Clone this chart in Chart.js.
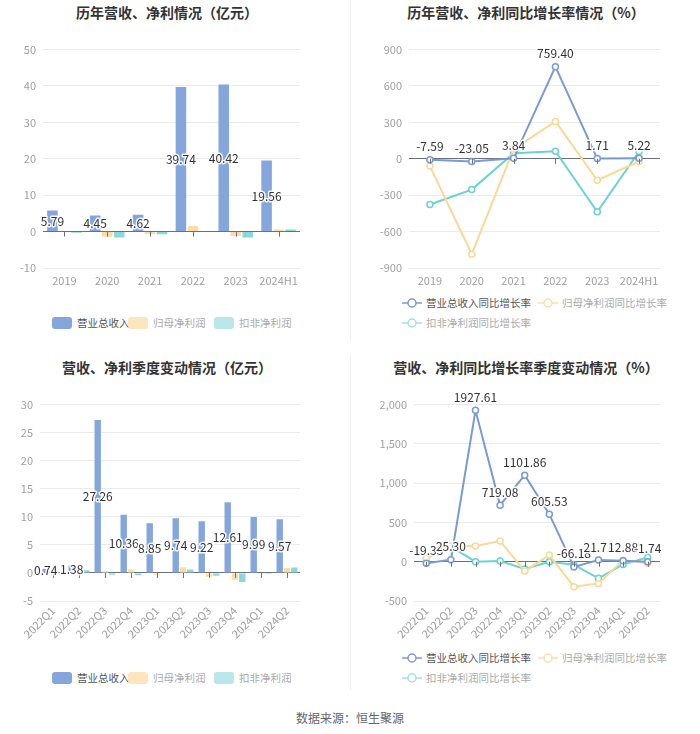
<!DOCTYPE html>
<html><head><meta charset="utf-8">
<script src="https://cdn.jsdelivr.net/npm/chart.js@4.4.1/dist/chart.umd.min.js"></script>
<style>
html,body{margin:0;padding:0;background:#fff;}
body{width:700px;height:734px;position:relative;overflow:hidden;font-family:"Noto Sans CJK SC","Noto Sans",sans-serif;}
.box{position:absolute;}
.title{position:absolute;font-size:14px;font-weight:bold;color:#333;white-space:nowrap;transform:translateX(-50%);}
.divider{position:absolute;width:1px;background:#f0f0f0;}
.legend{position:absolute;font-size:10.5px;white-space:nowrap;}
.legend .it{position:absolute;display:flex;align-items:center;}
.legend .sw{width:20px;height:12px;border-radius:3px;margin-right:5px;}
.legend svg{margin-right:4px;}
.src{position:absolute;left:0;width:700px;text-align:center;top:709px;font-size:12px;color:#666;}
</style></head>
<body>
<div class="divider" style="left:350px;top:0;height:340px"></div>
<div class="divider" style="left:350px;top:355px;height:335px"></div>
<div class="title" style="left:167px;top:2px">历年营收、净利情况（亿元）</div>
<div class="title" style="left:526px;top:2px">历年营收、净利同比增长率情况（%）</div>
<div class="title" style="left:167px;top:357px">营收、净利季度变动情况（亿元）</div>
<div class="title" style="left:526px;top:357px">营收、净利同比增长率季度变动情况（%）</div>
<div class="box" style="left:0;top:36px;width:310px;height:254px"><canvas id="c1"></canvas></div>
<div class="box" style="left:350px;top:36px;width:320px;height:254px"><canvas id="c2"></canvas></div>
<div class="box" style="left:0;top:391px;width:310px;height:259px"><canvas id="c3"></canvas></div>
<div class="box" style="left:350px;top:391px;width:320px;height:259px"><canvas id="c4"></canvas></div>
<div id="lg1" class="legend" style="left:0;top:315px"></div>
<div id="lg2" class="legend" style="left:0;top:295px"></div>
<div id="lg3" class="legend" style="left:0;top:670px"></div>
<div id="lg4" class="legend" style="left:0;top:650px"></div>
<div class="src">数据来源：恒生聚源</div>
<script>
// ---- data ----
const years = ['2019','2020','2021','2022','2023','2024H1'];
const annualRevenue = [5.79,4.45,4.62,39.74,40.42,19.56];
const annualNetProfit = [-0.1,-1.4,-0.7,1.55,-1.2,0.6];
const annualDeductedProfit = [-0.3,-1.6,-0.7,-0.1,-1.6,0.6];
const annualRevenueGrowth = [-7.59,-23.05,3.84,759.40,1.71,5.22];
const annualNetProfitGrowth = [-60,-786,80,308,-177,-22];
const annualDeductedGrowth = [-377,-254,46,63,-437,60];
const quarters = ['2022Q1','2022Q2','2022Q3','2022Q4','2023Q1','2023Q2','2023Q3','2023Q4','2024Q1','2024Q2'];
const quarterRevenue = [0.74,1.38,27.26,10.36,8.85,9.74,9.22,12.61,9.99,9.57];
const quarterNetProfit = [0.05,0.05,0.3,0.6,-0.3,1.0,-0.7,-1.2,-0.2,0.9];
const quarterDeductedProfit = [-0.1,0.5,-0.3,-0.4,-0.1,0.6,-0.5,-1.6,-0.2,0.95];
const quarterRevenueGrowth = [-19.33,25.30,1927.61,719.08,1101.86,605.53,-66.18,21.71,12.88,-1.74];
const quarterNetProfitGrowth = [40,200,200,263,-119,85,-318,-276,20,-21];
const quarterDeductedGrowth = [51,191,0,10,-93,0,-38,-212,-34,55];
const barNames = ['营业总收入','归母净利润','扣非净利润'];
const lineNames = ['营业总收入同比增长率','归母净利润同比增长率','扣非净利润同比增长率'];

const FONT = '"Noto Sans CJK SC","Noto Sans",sans-serif';
const BLUE_BAR = 'rgb(132,166,220)', YEL_BAR = 'rgb(252,220,165)', CY_BAR = 'rgb(140,215,220)';
const BLUE_LN = 'rgb(122,154,212)', YEL_LN = 'rgb(251,216,150)', CY_LN = 'rgb(105,210,212)';
const AXIS = '#6e7079', GRID = '#e9ebef', TICK = '#a0a0a0';

const labelPlugin = {
  id: 'vlabels',
  afterDatasetsDraw(chart, args, opts) {
    const ctx = chart.ctx;
    const meta = chart.getDatasetMeta(0);
    const data = chart.data.datasets[0].data;
    const y0 = chart.scales.y.getPixelForValue(0);
    ctx.save();
    ctx.font = '12px ' + FONT;
    ctx.textAlign = 'center';
    ctx.textBaseline = 'middle';
    ctx.lineJoin = 'round';
    meta.data.forEach((el, i) => {
      const t = data[i].toFixed(2);
      let x = el.x, y;
      if (opts.mode === 'bar') y = (el.y + y0) / 2; else y = el.y - 13;
      ctx.strokeStyle = 'rgba(255,255,255,0.9)';
      ctx.lineWidth = 3;
      ctx.strokeText(t, x, y);
      ctx.fillStyle = '#333';
      ctx.fillText(t, x, y);
    });
    ctx.restore();
  }
};
const zeroTicks = {
  id: 'zeroTicks',
  afterDatasetsDraw(chart) {
    const ctx = chart.ctx, xs = chart.scales.x, y0 = chart.scales.y.getPixelForValue(0);
    ctx.save();
    ctx.strokeStyle = AXIS; ctx.lineWidth = 1;
    ctx.beginPath();
    xs.ticks.forEach((t, i) => {
      const x = Math.round(xs.getPixelForTick(i)) + 0.5;
      ctx.moveTo(x, y0); ctx.lineTo(x, y0 + 5);
    });
    ctx.stroke();
    ctx.restore();
  }
};

function yScale(min, max, step, width, pad) {
  return {
    min, max,
    border: { display: false },
    grid: { drawTicks: false, color: c => c.tick && c.tick.value === 0 ? AXIS : GRID, lineWidth: 1 },
    ticks: { stepSize: step, color: TICK, padding: pad, font: { size: 11, family: FONT } },
    afterFit: s => { s.width = width; }
  };
}
function xScale(height, rotate, offset) {
  return {
    offset: offset,
    border: { display: false },
    grid: { display: false, drawTicks: false },
    ticks: { color: TICK, padding: rotate ? 3 : 6, autoSkip: false,
      maxRotation: rotate ? 45 : 0, minRotation: rotate ? 45 : 0,
      font: { size: 11, family: FONT } },
    afterFit: s => { s.height = height; }
  };
}
function barChart(id, labels, a, b, c, ymin, ymax, step, yw, xh, rotate, padTop) {
  const mk = (label, data, color) => ({ label, data, backgroundColor: color, categoryPercentage: 0.84, barPercentage: 0.88 });
  return new Chart(document.getElementById(id), {
    type: 'bar',
    data: { labels, datasets: [mk(barNames[0], a, BLUE_BAR), mk(barNames[1], b, YEL_BAR), mk(barNames[2], c, CY_BAR)] },
    options: {
      responsive: true, maintainAspectRatio: false, animation: false,
      layout: { padding: { top: padTop, right: 10, left: 0, bottom: 0 } },
      plugins: { legend: { display: false }, tooltip: { enabled: false }, vlabels: { mode: 'bar' } },
      scales: { x: xScale(xh, rotate, true), y: yScale(ymin, ymax, step, yw, 7) }
    },
    plugins: [zeroTicks, labelPlugin]
  });
}
function lineChart(id, labels, a, b, c, ymin, ymax, step, yw, xh, rotate, padTop) {
  const mk = (label, data, color) => ({ label, data, borderColor: color, backgroundColor: color,
    pointBackgroundColor: '#fff', pointBorderColor: color, pointRadius: 3, pointBorderWidth: 1.5,
    borderWidth: 2, tension: 0, fill: false });
  return new Chart(document.getElementById(id), {
    type: 'line',
    data: { labels, datasets: [mk(lineNames[0], a, BLUE_LN), mk(lineNames[1], b, YEL_LN), mk(lineNames[2], c, CY_LN)] },
    options: {
      responsive: true, maintainAspectRatio: false, animation: false,
      layout: { padding: { top: padTop, right: 10, left: 0, bottom: 0 } },
      plugins: { legend: { display: false }, tooltip: { enabled: false }, vlabels: { mode: 'line' } },
      scales: { x: xScale(xh, rotate, true), y: yScale(ymin, ymax, step, yw, 7) }
    },
    plugins: [zeroTicks, labelPlugin]
  });
}

barChart('c1', years, annualRevenue, annualNetProfit, annualDeductedProfit, -10, 50, 10, 43, 22, false, 9);
lineChart('c2', years, annualRevenueGrowth, annualNetProfitGrowth, annualDeductedGrowth, -900, 900, 300, 59, 22, false, 9);
barChart('c3', quarters, quarterRevenue, quarterNetProfit, quarterDeductedProfit, -5, 30, 5, 40, 49, true, 10);
lineChart('c4', quarters, quarterRevenueGrowth, quarterNetProfitGrowth, quarterDeductedGrowth, -500, 2000, 500, 64, 49, true, 10);

// ---- HTML legends ----
const barColors = [BLUE_BAR, 'rgb(253,229,190)', 'rgb(185,231,234)'];
const lineColors = ['rgb(122,154,212)', 'rgb(253,222,170)', 'rgb(160,225,228)'];
const txtColors = ['#555', '#aaa', '#aaa'];
function barLegend(id, xs) {
  const el = document.getElementById(id);
  barNames.forEach((n, i) => {
    const d = document.createElement('div'); d.className = 'it'; d.style.left = xs[i] + 'px';
    d.innerHTML = '<span class="sw" style="background:' + barColors[i] + '"></span><span style="color:' + txtColors[i] + '">' + n + '</span>';
    el.appendChild(d);
  });
}
function lineLegend(id, pos) {
  const el = document.getElementById(id);
  lineNames.forEach((n, i) => {
    const d = document.createElement('div'); d.className = 'it';
    d.style.left = pos[i][0] + 'px'; d.style.top = pos[i][1] + 'px';
    const c = lineColors[i];
    d.innerHTML = '<svg width="20" height="12"><line x1="0" y1="6" x2="20" y2="6" stroke="' + c + '" stroke-width="1.5"/><circle cx="10" cy="6" r="4" fill="#fff" stroke="' + c + '" stroke-width="1.5"/></svg><span style="color:' + txtColors[i] + '">' + n + '</span>';
    el.appendChild(d);
  });
}
barLegend('lg1', [52, 128, 214]);
barLegend('lg3', [52, 128, 214]);
lineLegend('lg2', [[402, 0], [538, 0], [402, 20]]);
lineLegend('lg4', [[402, 0], [538, 0], [402, 20]]);
</script>
</body></html>
